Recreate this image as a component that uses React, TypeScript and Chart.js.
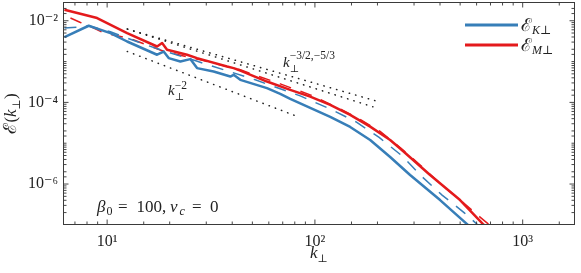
import React, { useEffect, useRef } from "react";
import { Chart, registerables } from "chart.js";

Chart.register(...registerables);

const FAMILY = '"Liberation Serif", "DejaVu Serif", "Times New Roman", serif';
const BLUE = "#377eb8";
const RED = "#e41a1c";
const INK = "#222222";

// axis ranges
const X_MIN = 6.2;
const X_MAX = 1766;
const Y_MIN = 1.05e-7;
const Y_MAX = 2.72e-2;
const xTickExponents = [1, 2, 3];
const yTickExponents = [-2, -4, -6];

// E_K (solid)
const kKa = [6.23, 8.15, 10.37, 12.48, 17.39, 18.71, 19.78, 22.51, 25.14, 27.08, 32.54, 39.16, 40.62, 43.75, 58.78, 68.1, 76.07, 94.93, 118.5, 147.8, 184.5, 230.2, 287.2, 400.4, 539.8, 589.7];
const eKa = [3.98e-3, 7.54e-3, 4.99e-3, 3.1e-3, 1.47e-3, 1.76e-3, 1.215e-3, 1.003e-3, 1.148e-3, 6.91e-4, 5.7e-4, 4.3e-4, 4.73e-4, 3.57e-4, 2.23e-4, 1.617e-4, 1.219e-4, 7.33e-5, 4.41e-5, 2.505e-5, 1.202e-5, 4.6e-6, 1.663e-6, 4.05e-7, 1.043e-7, 7.0e-8];

// E_M (solid)
const kMa = [6.23, 8.95, 12.48, 17.39, 18.39, 19.43, 24.24, 27.08, 37.76, 40.62, 43.75, 58.78, 76.07, 94.93, 118.5, 147.8, 184.5, 230.2, 257.1, 358.4, 499.5, 644.5, 696.3];
const eMa = [1.862e-2, 1.165e-2, 4.99e-3, 2.34e-3, 2.84e-3, 1.94e-3, 1.464e-3, 1.215e-3, 7.56e-4, 6.91e-4, 6.03e-4, 3.24e-4, 2.026e-4, 1.388e-4, 8.68e-5, 4.93e-5, 2.547e-5, 1.202e-5, 7.43e-6, 1.663e-6, 4.05e-7, 1.043e-7, 7.43e-8];

// E_K (dashed, second run)
const kKb = [6.23, 7.61, 8.13, 10.37, 12.52, 18.04, 27.17, 51.64, 84.98, 121.1, 157.9, 203.8, 262.9, 328.1, 409.3, 522.2, 609.8];
const eKb = [6.62e-3, 7.12e-3, 7.54e-3, 5.37e-3, 3.72e-3, 1.94e-3, 1.014e-3, 3.57e-4, 1.443e-4, 6.55e-5, 3.32e-5, 1.384e-5, 4.87e-6, 1.51e-6, 5.37e-7, 2.0e-7, 9.86e-8];

// E_M (dashed, second run)
const kMb = [6.66, 7.44, 8.31, 9.6, 12.94, 19.06, 28.09, 43.75, 68.1, 94.93, 132.3, 165.1, 206.0, 257.1, 320.8, 400.4, 499.5, 623.4, 711.9];
const eMb = [1.165e-2, 9.08e-3, 7.25e-3, 5.08e-3, 3.62e-3, 1.735e-3, 1.104e-3, 6.27e-4, 2.84e-4, 1.528e-4, 6.93e-5, 3.83e-5, 1.943e-5, 7.87e-6, 2.93e-6, 1.029e-6, 4.05e-7, 1.55e-7, 8.8e-8];

// reference power laws (end points)
const kRef2 = [12.5, 81.5];
const eRef2 = [1.77e-3, 4.6e-5];
const kRef32 = [12.5, 195];
const eRef32 = [6.25e-3, 1.1e-4];
const kRef53 = [12.5, 190];
const eRef53 = [6.25e-3, 7.8e-5];

const SUP: Record<string, string> = { "-": "⁻", "0": "⁰", "1": "¹", "2": "²", "3": "³", "4": "⁴", "5": "⁵", "6": "⁶", "7": "⁷", "8": "⁸", "9": "⁹" };
const supStr = (n: number) => String(n).split("").map((c) => SUP[c]).join("");
const pts = (xs: number[], ys: number[]) => xs.map((x, i) => ({ x, y: ys[i] }));

type Part = { t: string; size: number; italic?: boolean; dy?: number; same?: boolean; at?: number };

function drawParts(ctx: CanvasRenderingContext2D, x0: number, y0: number, parts: Part[]) {
  let x = x0;
  let prevStart = x0;
  for (const p of parts) {
    ctx.font = `${p.italic ? "italic " : ""}${p.size}px ${FAMILY}`;
    let px = x;
    if (p.same) px = prevStart;
    if (p.at !== undefined) px = p.at;
    ctx.fillText(p.t, px, y0 + (p.dy || 0));
    prevStart = px;
    x = Math.max(x, px + ctx.measureText(p.t).width);
  }
  return x;
}

const overlay = {
  id: "overlay",
  afterDatasetsDraw(chart: any) {
    const { ctx, chartArea: a, scales } = chart;
    ctx.save();
    ctx.strokeStyle = "#333";
    ctx.lineWidth = 0.9;
    const xs = scales.x;
    for (const t of xs.ticks) {
      const p = xs.getPixelForValue(t.value);
      if (p < a.left + 1 || p > a.right - 1) continue;
      const e = Math.log10(t.value);
      const major = Math.abs(e - Math.round(e)) < 1e-6;
      const len = major ? 4.5 : 2.5;
      ctx.beginPath();
      ctx.moveTo(p, a.bottom);
      ctx.lineTo(p, a.bottom - len);
      ctx.moveTo(p, a.top);
      ctx.lineTo(p, a.top + len);
      ctx.stroke();
    }
    const ys = scales.y;
    for (const t of ys.ticks) {
      const p = ys.getPixelForValue(t.value);
      if (p < a.top + 1 || p > a.bottom - 1) continue;
      const e = Math.log10(t.value);
      const r = Math.round(e);
      const major = Math.abs(e - r) < 1e-6 && yTickExponents.includes(r);
      const len = major ? 4.5 : 2.5;
      ctx.beginPath();
      ctx.moveTo(a.left, p);
      ctx.lineTo(a.left + len, p);
      ctx.moveTo(a.right, p);
      ctx.lineTo(a.right - len, p);
      ctx.stroke();
    }
    ctx.lineWidth = 1;
    ctx.strokeStyle = "#3a3a3a";
    ctx.strokeRect(a.left - 0.5, a.top - 0.5, a.right - a.left + 1, a.bottom - a.top + 1);
    ctx.restore();
  },
  afterDraw(chart: any) {
    const { ctx, chartArea: a } = chart;
    ctx.save();
    ctx.fillStyle = INK;
    ctx.textBaseline = "alphabetic";
    ctx.textAlign = "left";

    // legend
    const ds = chart.data.datasets;
    const legend = [
      { color: ds[0].borderColor, sub: "K⊥", y: 25 },
      { color: ds[1].borderColor, sub: "M⊥", y: 45 },
    ];
    for (const l of legend) {
      ctx.strokeStyle = l.color;
      ctx.lineWidth = 3;
      ctx.beginPath();
      ctx.moveTo(465, l.y);
      ctx.lineTo(518, l.y);
      ctx.stroke();
      drawParts(ctx, 521, l.y + 6, [
        { t: "ℰ", size: 18 },
        { t: l.sub, size: 12, italic: true, dy: 2.5 },
      ]);
    }

    // power-law labels
    drawParts(ctx, 283, 66.5, [
      { t: "k", size: 15, italic: true },
      { t: "⊥", size: 10, dy: 5 },
      { t: "−3/2,−5/3", size: 11.5, dy: -7.5, same: true },
    ]);
    drawParts(ctx, 168, 95, [
      { t: "k", size: 15, italic: true },
      { t: "⊥", size: 10, dy: 4.5 },
      { t: "−2", size: 11.5, dy: -6, same: true },
    ]);

    // parameters
    drawParts(ctx, 97, 211.5, [
      { t: "β", size: 17, italic: true, at: 97 },
      { t: "0", size: 12, dy: 3, at: 106.5 },
      { t: "=", size: 17, at: 118 },
      { t: "100,", size: 17, at: 136.5 },
      { t: "ν", size: 17, italic: true, at: 170 },
      { t: "c", size: 12, italic: true, dy: 3, at: 179.5 },
      { t: "=", size: 17, at: 192 },
      { t: "0", size: 17, at: 210 },
    ]);

    // x title
    {
      ctx.font = `italic 17px ${FAMILY}`;
      const wk = ctx.measureText("k").width;
      ctx.font = `11px ${FAMILY}`;
      const ws = ctx.measureText("⊥").width;
      const cx = (a.left + a.right) / 2;
      drawParts(ctx, cx - (wk + ws) / 2, 258, [
        { t: "k", size: 17, italic: true },
        { t: "⊥", size: 11, dy: 3.5 },
      ]);
    }
    // y title
    {
      const parts: Part[] = [
        { t: "ℰ", size: 18 },
        { t: "(", size: 17 },
        { t: "k", size: 17, italic: true },
        { t: "⊥", size: 11, dy: 3.5 },
        { t: ")", size: 17 },
      ];
      let w = 0;
      for (const p of parts) {
        ctx.font = `${p.italic ? "italic " : ""}${p.size}px ${FAMILY}`;
        w += ctx.measureText(p.t).width;
      }
      ctx.translate(16, (a.top + a.bottom) / 2);
      ctx.rotate(-Math.PI / 2);
      drawParts(ctx, -w / 2, 0, parts);
    }
    ctx.restore();
  },
};

export default function App() {
  const ref = useRef<HTMLCanvasElement | null>(null);
  useEffect(() => {
    document.body.style.margin = "0";
    const canvas = ref.current;
    if (!canvas) return;
    const tickLabel = (exps: number[]) => (v: any) => {
      const e = Math.log10(Number(v));
      const r = Math.round(e);
      if (Math.abs(e - r) < 1e-6 && exps.includes(r)) return "10" + supStr(r);
      return "";
    };
    const dotted = (xs: number[], ys: number[]) => ({
      data: pts(xs, ys),
      borderColor: "#222",
      borderWidth: 1.5,
      borderDash: [0.4, 6.2],
      borderCapStyle: "round" as const,
      pointRadius: 0,
      fill: false,
    });
    const curve = { pointRadius: 0, fill: false };
    const chart = new Chart(canvas, {
      type: "line",
      data: {
        datasets: [
          { label: "E_K", data: pts(kKa, eKa), borderColor: BLUE, borderWidth: 2.5, borderJoinStyle: "round", ...curve },
          { label: "E_M", data: pts(kMa, eMa), borderColor: RED, borderWidth: 2.5, borderJoinStyle: "round", ...curve },
          { label: "E_K b", data: pts(kKb, eKb), borderColor: BLUE, borderWidth: 1.5, borderDash: [12, 10], ...curve },
          { label: "E_M b", data: pts(kMb, eMb), borderColor: RED, borderWidth: 1.5, borderDash: [12, 10], ...curve },
          { label: "k^-2", ...dotted(kRef2, eRef2) },
          { label: "k^-3/2", ...dotted(kRef32, eRef32) },
          { label: "k^-5/3", ...dotted(kRef53, eRef53) },
        ] as any,
      },
      options: {
        animation: false,
        responsive: false,
        maintainAspectRatio: false,
        layout: { padding: { top: 3, right: 7, left: 0, bottom: 0 } },
        plugins: { legend: { display: false }, tooltip: { enabled: false } },
        elements: { line: { tension: 0 }, point: { radius: 0 } },
        scales: {
          x: {
            type: "logarithmic",
            min: X_MIN,
            max: X_MAX,
            grid: { display: false, drawTicks: false },
            border: { display: false },
            ticks: { autoSkip: false, maxRotation: 0, padding: 8, color: INK, font: { family: FAMILY, size: 16 }, callback: tickLabel(xTickExponents) },
            afterFit: (s: any) => { s.height = 49; s.paddingLeft = 0; s.paddingRight = 0; },
          },
          y: {
            type: "logarithmic",
            min: Y_MIN,
            max: Y_MAX,
            grid: { display: false, drawTicks: false },
            border: { display: false },
            ticks: { autoSkip: false, padding: 6, color: INK, font: { family: FAMILY, size: 16 }, callback: tickLabel(yTickExponents) },
            afterFit: (s: any) => { s.width = 64; s.paddingTop = 0; s.paddingBottom = 0; },
          },
        },
      } as any,
      plugins: [overlay],
    });
    return () => chart.destroy();
  }, []);
  return <canvas ref={ref} width={581} height={273} style={{ display: "block", width: 581, height: 273 }} />;
}
